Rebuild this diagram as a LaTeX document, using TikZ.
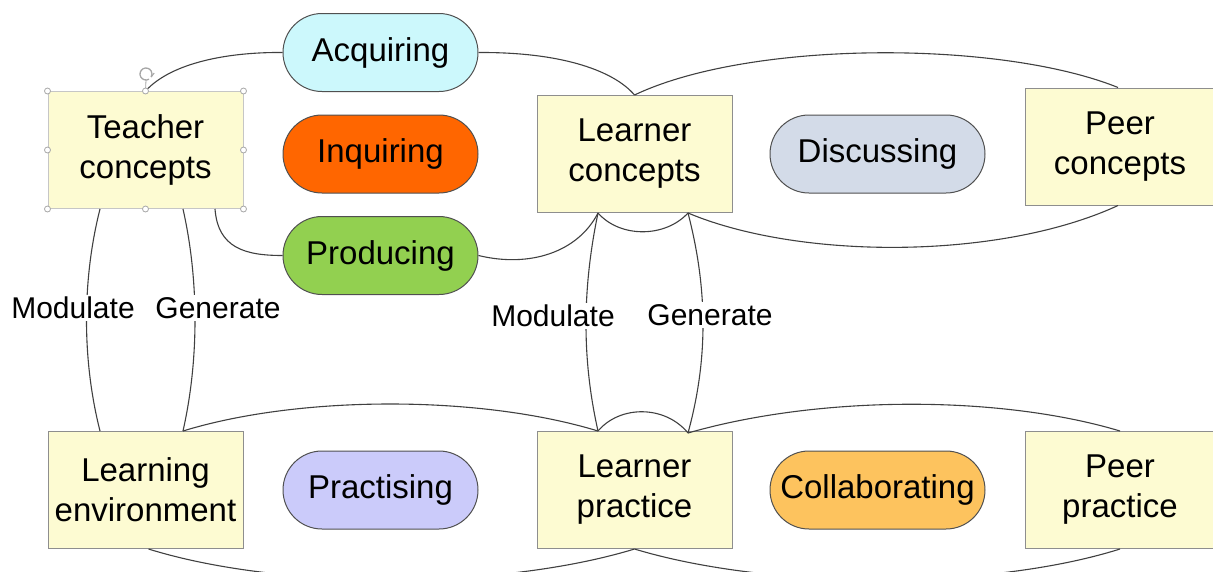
\documentclass[tikz,border=0pt]{standalone}
\usepackage{fontspec}
\setmainfont{Liberation Sans}
\definecolor{boxfill}{HTML}{FDFBD2}
\definecolor{boxline}{HTML}{8E8E8E}
\definecolor{pillline}{HTML}{505050}
\definecolor{linkcol}{HTML}{404040}
\definecolor{cAcq}{HTML}{CCF8FC}
\definecolor{cInq}{HTML}{FF6600}
\definecolor{cPro}{HTML}{92D050}
\definecolor{cDis}{HTML}{D3DBE8}
\definecolor{cPra}{HTML}{CBCBFA}
\definecolor{cCol}{HTML}{FDC35E}
\begin{document}
\begin{tikzpicture}[x=1pt,y=-1pt,
  box/.style={draw=boxline, line width=1pt, fill=boxfill, minimum width=195pt, minimum height=117pt, align=center, inner sep=0pt, font=\fontsize{33}{40}\selectfont},
  pill/.style={draw=pillline, line width=1pt, rounded corners=39pt, minimum width=195pt, minimum height=78pt, inner sep=0pt, font=\fontsize{33}{40}\selectfont},
  link/.style={draw=linkcol, line width=1.1pt},
  lab/.style={fill=white, inner sep=2pt, font=\fontsize{30}{36}\selectfont},
  handle/.style={draw=gray!70, fill=white, line width=0.8pt}
]
\useasboundingbox (0,0) rectangle (1213,571);
% boxes
\node[box, draw=gray!45] (tc) at (145.5,150) {Teacher\\concepts};
\node[box] (lc) at (634.5,154) {Learner\\concepts};
\node[box, minimum width=190pt] (pc) at (1120,146.5) {Peer\\concepts};
\node[box] (le) at (145.5,490) {Learning\\environment};
\node[box] (lp) at (634.5,490) {Learner\\practice};
\node[box, minimum width=190pt] (pp) at (1120,490) {Peer\\practice};
% pills
\node[pill, fill=cAcq] (acq) at (380.5,52.5) {Acquiring};
\node[pill, fill=cInq] (inq) at (380.5,154) {Inquiring};
\node[pill, fill=cPro] (pro) at (380.5,255.5) {Producing};
\node[pill, fill=cDis, minimum width=215pt] (dis) at (877.5,154) {Discussing};
\node[pill, fill=cPra] (pra) at (380.5,490) {Practising};
\node[pill, fill=cCol, minimum width=215pt] (col) at (877.5,490) {Collaborating};
% anchor points
\coordinate (tcT) at (tc.north);
\coordinate (tcM) at ([xshift=-45.5pt]tc.south);
\coordinate (tcG) at ([xshift=37.5pt]tc.south);
\coordinate (tcP) at ([xshift=69.5pt]tc.south);
\coordinate (lcT) at (lc.north);
\coordinate (lcM) at ([xshift=-36.5pt]lc.south);
\coordinate (lcG) at ([xshift=53.5pt]lc.south);
\coordinate (pcT) at ([xshift=-2pt]pc.north);
\coordinate (pcB) at ([xshift=-2pt]pc.south);
\coordinate (leM) at ([xshift=-45.5pt]le.north);
\coordinate (leG) at ([xshift=37.5pt]le.north);
\coordinate (leB) at ([xshift=3pt]le.south);
\coordinate (lpM) at ([xshift=-36.5pt]lp.north);
\coordinate (lpG) at ([xshift=53.5pt,yshift=-2pt]lp.north);
\coordinate (lpB) at (lp.south);
\coordinate (ppT) at ([xshift=0pt]pp.north);
\coordinate (ppB) at ([xshift=0pt]pp.south);
\coordinate (rot) at (146,74);
% connectors
\draw[link] (tcT) .. controls (172,62) and (230,52) .. (acq.west);
\draw[link] (acq.east) .. controls (565,52) and (615,72) .. (lcT);
\draw[link] (lcT) .. controls (750,40) and (1000,40) .. (pcT);
\draw[link] (lcG) .. controls (800,260) and (1000,260) .. (pcB);
\draw[link] (tcP) .. controls (218,248) and (245,255.5) .. (pro.west);
\draw[link] (pro.east) .. controls (530,268) and (578,252) .. (lcM);
\draw[link] (lcM) .. controls (620,238) and (665,238) .. (lcG);
\draw[link] (tcM) .. controls (82,280) and (82,360) .. (leM);
\draw[link] (tcG) .. controls (199,280) and (199,360) .. (leG);
\draw[link] (lcM) .. controls (582,290) and (582,360) .. (lpM);
\draw[link] (lcG) .. controls (708,290) and (708,360) .. (lpG);
\draw[link] (leG) .. controls (300,395) and (480,395) .. (lpM);
\draw[link] (lpM) .. controls (620,405) and (665,405) .. (lpG);
\draw[link] (lpG) .. controls (820,395) and (1000,395) .. (ppT);
\draw[link] (leB) .. controls (280,590) and (500,590) .. (lpB);
\draw[link] (lpB) .. controls (770,590) and (990,590) .. (ppB);
% labels
\node[lab] (m1) at (73,308) {Modulate};
\node[lab] (g1) at (218,308) {Generate};
\node[lab] (m2) at (553,316) {Modulate};
\node[lab] (g2) at (710,315) {Generate};
% selection handles on Teacher concepts
\draw[draw=gray!70, line width=0.8pt] (tc.north) -- ([yshift=-6pt]rot);
\draw[draw=gray!70, line width=1.3pt] ([shift={(60:6)}]rot) arc (60:390:6);
\draw[draw=gray!70, line width=1pt] ([shift={(30:6)}]rot) -- ++(3,-4);
\foreach \a in {north west,north,north east,east,south east,south,south west,west}
  \draw[handle] (tc.\a) circle (3);
\end{tikzpicture}
\end{document}
